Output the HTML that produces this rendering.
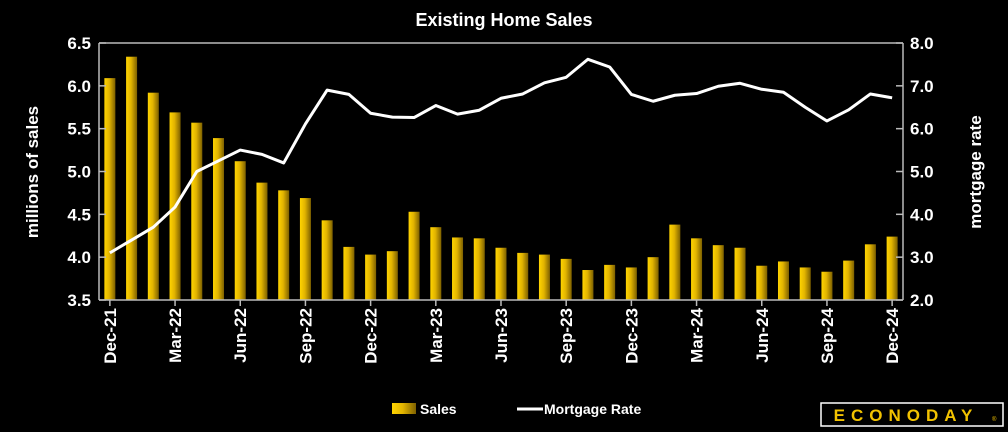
<!DOCTYPE html>
<html><head><meta charset="utf-8">
<style>
html,body{margin:0;padding:0;background:#000;width:1008px;height:432px;overflow:hidden}
svg{display:block;font-family:"Liberation Sans",sans-serif}
</style></head>
<body>
<svg id="chart" width="1008" height="432" xmlns="http://www.w3.org/2000/svg">
<defs>
<linearGradient id="gold" x1="0" y1="0" x2="1" y2="0">
<stop offset="0" stop-color="#ffd400"/><stop offset="0.45" stop-color="#e2b400"/><stop offset="1" stop-color="#7d6000"/>
</linearGradient>
</defs>
<text x="504" y="26" fill="#fff" font-size="18" font-weight="bold" text-anchor="middle">Existing Home Sales</text>
<text transform="translate(38,172) rotate(-90)" fill="#fff" font-size="17" font-weight="bold" text-anchor="middle">millions of sales</text>
<text transform="translate(981,172) rotate(-90)" fill="#fff" font-size="17" font-weight="bold" text-anchor="middle">mortgage rate</text>
<g id="plot"></g>
<g>
<rect x="392" y="403" width="24" height="11" fill="url(#gold)"/>
<text x="420" y="414" fill="#fff" font-size="14" font-weight="bold">Sales</text>
<line x1="517" y1="409" x2="543" y2="409" stroke="#fff" stroke-width="3"/>
<text x="544" y="414" fill="#fff" font-size="14" font-weight="bold">Mortgage Rate</text>
</g>
<g>
<rect x="821" y="403" width="182" height="23" fill="#000" stroke="#fff" stroke-width="1.5"/>
<text x="906" y="421" fill="#f2c200" font-size="17" font-weight="bold" text-anchor="middle" letter-spacing="6">ECONODAY</text>
<text x="992" y="421" fill="#f2c200" font-size="6">®</text>
</g>
</svg>
<script>
const months = ["Dec-21","Jan-22","Feb-22","Mar-22","Apr-22","May-22","Jun-22","Jul-22","Aug-22","Sep-22","Oct-22","Nov-22","Dec-22","Jan-23","Feb-23","Mar-23","Apr-23","May-23","Jun-23","Jul-23","Aug-23","Sep-23","Oct-23","Nov-23","Dec-23","Jan-24","Feb-24","Mar-24","Apr-24","May-24","Jun-24","Jul-24","Aug-24","Sep-24","Oct-24","Nov-24","Dec-24"];
const sales = [6.09,6.34,5.92,5.69,5.57,5.39,5.12,4.87,4.78,4.69,4.43,4.12,4.03,4.07,4.53,4.35,4.23,4.22,4.11,4.05,4.03,3.98,3.85,3.91,3.88,4.00,4.38,4.22,4.14,4.11,3.90,3.95,3.88,3.83,3.96,4.15,4.24];
const mortgage = [3.10,3.40,3.70,4.17,5.00,5.25,5.50,5.40,5.20,6.11,6.90,6.80,6.36,6.27,6.26,6.54,6.34,6.43,6.71,6.81,7.07,7.20,7.62,7.44,6.80,6.64,6.78,6.82,6.99,7.06,6.92,6.85,6.50,6.18,6.44,6.81,6.72];
const leftTicks = ["3.5","4.0","4.5","5.0","5.5","6.0","6.5"];
const rightTicks = ["2.0","3.0","4.0","5.0","6.0","7.0","8.0"];

const NS="http://www.w3.org/2000/svg";
const g=document.getElementById('plot');
const X0=99,X1=903,Y0=300,Y1=43;
const step=(X1-X0)/months.length;
const xc=i=>X0+step*(i+0.5);
const yL=v=>Y0-(v-3.5)/3*(Y0-Y1);
const yR=v=>Y0-(v-2)/6*(Y0-Y1);
function mk(t,a){const e=document.createElementNS(NS,t);for(const k in a)e.setAttribute(k,a[k]);g.appendChild(e);return e;}

mk('line',{x1:X0,y1:Y1,x2:X1,y2:Y1,stroke:'#bbb','stroke-width':1.5});
sales.forEach((v,i)=>{
  const r=mk('rect',{x:xc(i)-5.5,y:yL(v),width:11,height:Y0-yL(v),fill:'url(#gold)'});
  
  
});
mk('line',{x1:X0,y1:Y1,x2:X0,y2:Y0,stroke:'#bbb','stroke-width':1.5});
mk('line',{x1:X1,y1:Y1,x2:X1,y2:Y0,stroke:'#bbb','stroke-width':1.5});
mk('line',{x1:X0,y1:Y0,x2:X1,y2:Y0,stroke:'#bbb','stroke-width':1.5});
leftTicks.forEach(t=>{
  const y=yL(+t);
  mk('line',{x1:X0,y1:y,x2:X0+7,y2:y,stroke:'#bbb','stroke-width':1.5});
  const tx=mk('text',{x:X0-8,y:y+6,fill:'#fff','font-size':17,'font-weight':'bold','text-anchor':'end'});
  tx.textContent=t;
  
  
});
rightTicks.forEach(t=>{
  const y=yR(+t);
  mk('line',{x1:X1-7,y1:y,x2:X1,y2:y,stroke:'#bbb','stroke-width':1.5});
  const tx=mk('text',{x:X1+7,y:y+6,fill:'#fff','font-size':17,'font-weight':'bold'});
  tx.textContent=t;
  
  
});
months.forEach((m,i)=>{
  if(i%3!==0)return;
  const x=xc(i);
  mk('line',{x1:x,y1:Y0,x2:x,y2:Y0+6,stroke:'#bbb','stroke-width':1.5});
  const tx=mk('text',{transform:`translate(${x+6},${Y0+8}) rotate(-90)`,fill:'#fff','font-size':17,'font-weight':'bold','text-anchor':'end'});
  tx.textContent=m;
  
  
});
const pl=mk('polyline',{points:mortgage.map((v,i)=>xc(i)+','+yR(v)).join(' '),fill:'none',stroke:'#fff','stroke-width':3,'stroke-linejoin':'round'});


</script>
</body></html>
